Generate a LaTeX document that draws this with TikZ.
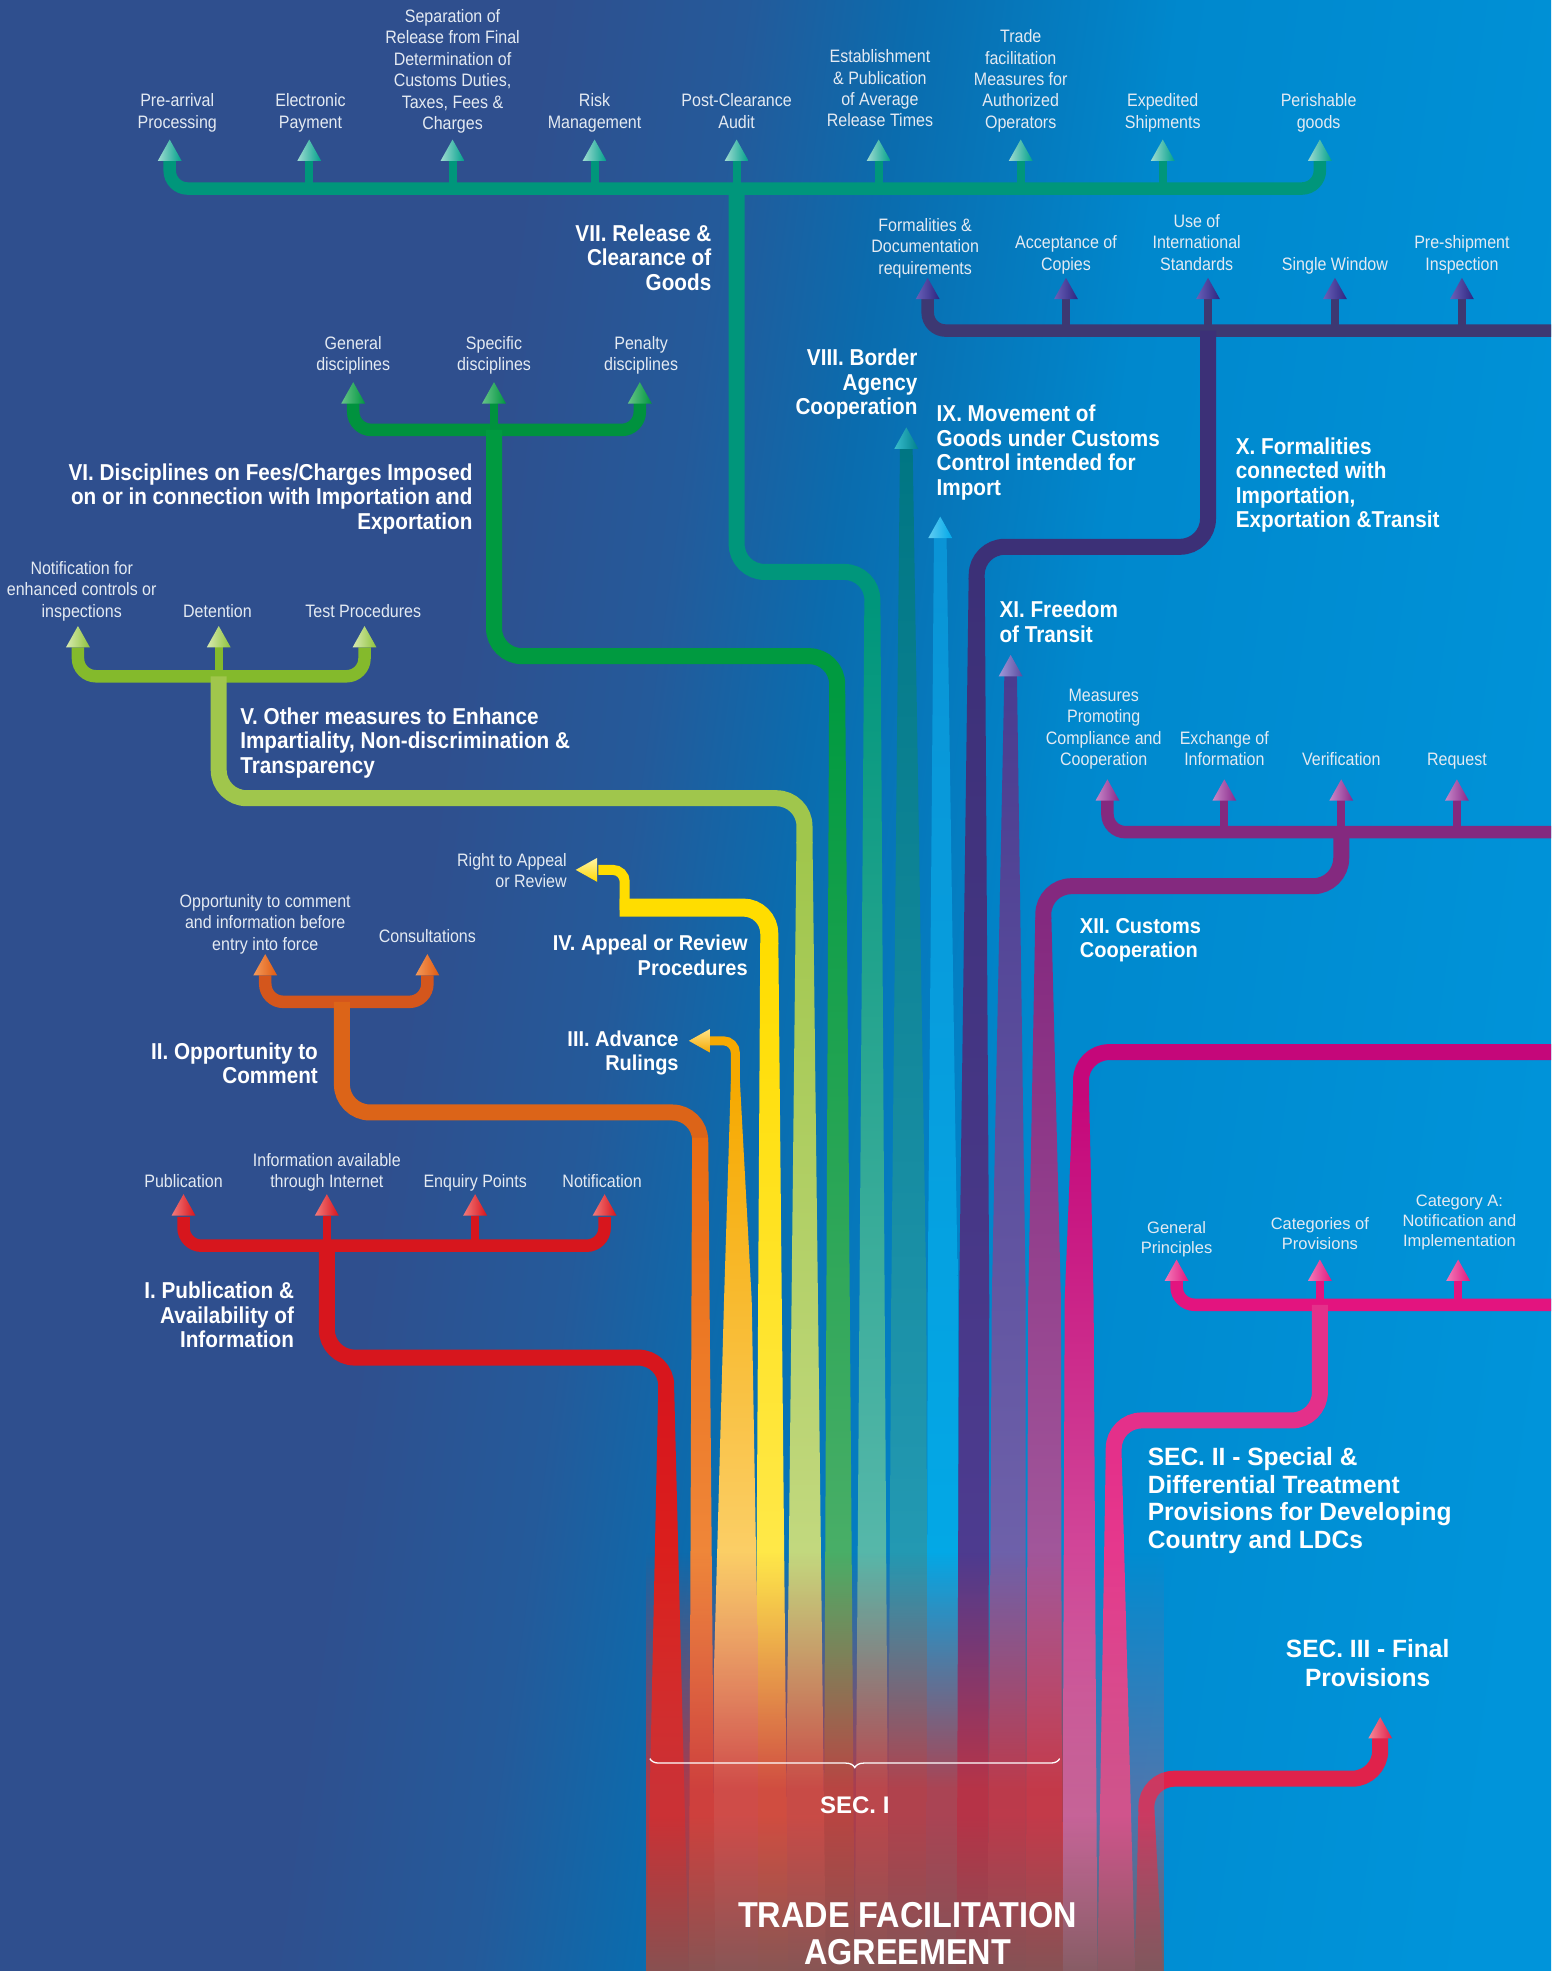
\documentclass[tikz,border=0pt]{standalone}
\usepackage{fontspec}
\setmainfont{Liberation Sans}
\newfontfamily\tfsub[FakeStretch=0.89]{Liberation Sans}
\newfontfamily\tfsec[FakeStretch=0.9]{Liberation Sans}
\newfontfamily\tfwide[FakeStretch=0.93]{Liberation Sans}
\newfontfamily\tfwideB[FakeStretch=0.98]{Liberation Sans}
\newfontfamily\tftitle[FakeStretch=0.9]{Liberation Sans}
\usetikzlibrary{fadings,decorations.pathreplacing}

\definecolor{bgA}{HTML}{2F4F8E}
\definecolor{bgB}{HTML}{245A9A}
\definecolor{bgC}{HTML}{0A6CAE}
\definecolor{bgD}{HTML}{0088CD}
\definecolor{bgE}{HTML}{0094DA}
\definecolor{subtxt}{HTML}{E4EAF2}

\definecolor{cI}{HTML}{D7161D}\definecolor{cIb}{HTML}{E4361E}
\definecolor{cIIbar}{HTML}{D4561C}\definecolor{cII}{HTML}{DC6418}
\definecolor{cIIv}{HTML}{EA6C12}\definecolor{cIIb}{HTML}{F4A060}
\definecolor{cIII}{HTML}{F6A900}\definecolor{cIIIm}{HTML}{FFE59A}\definecolor{cIIIb}{HTML}{FFEFC0}
\definecolor{cIV}{HTML}{FFDD00}\definecolor{cIVb}{HTML}{FFF07A}
\definecolor{cVbar}{HTML}{84BA2C}\definecolor{cV}{HTML}{A0C64C}\definecolor{cVb}{HTML}{D6E39C}
\definecolor{cVIbar}{HTML}{00923E}\definecolor{cVI}{HTML}{009A40}\definecolor{cVIb}{HTML}{6CB87A}
\definecolor{cVII}{HTML}{00967B}\definecolor{cVIIb}{HTML}{7CC6BE}
\definecolor{cVIII}{HTML}{007683}\definecolor{cVIIIb}{HTML}{30A6C4}
\definecolor{cIX}{HTML}{0A94D6}\definecolor{cIXb}{HTML}{00B0EC}
\definecolor{cXbar}{HTML}{3D3872}\definecolor{cX}{HTML}{3C3077}\definecolor{cXb}{HTML}{54409A}
\definecolor{cXI}{HTML}{4A3C90}\definecolor{cXIb}{HTML}{7E72B6}
\definecolor{cXII}{HTML}{84297F}\definecolor{cXIIb}{HTML}{B474AC}
\definecolor{cS2}{HTML}{C5077A}\definecolor{cS2b}{HTML}{DC80B4}
\definecolor{cS2s}{HTML}{E3147F}\definecolor{cS2m}{HTML}{E4308A}\definecolor{cS2mb}{HTML}{EA5E9A}
\definecolor{cS3}{HTML}{E0224B}\definecolor{cS3b}{HTML}{A45068}
\definecolor{ovRed}{HTML}{C8323A}\definecolor{ovPink}{HTML}{B05A80}\definecolor{ovBrown}{HTML}{785858}

\definecolor{aI}{HTML}{D8141C}\definecolor{aIL}{HTML}{F27A7A}
\definecolor{aII}{HTML}{E05A10}\definecolor{aIIL}{HTML}{F39A5A}
\definecolor{aIII}{HTML}{F5A800}\definecolor{aIIIL}{HTML}{FFE48A}
\definecolor{aIV}{HTML}{FFD800}\definecolor{aIVL}{HTML}{FFF4A8}
\definecolor{aV}{HTML}{8EC23C}\definecolor{aVL}{HTML}{D8EAB0}
\definecolor{aVI}{HTML}{00963F}\definecolor{aVIL}{HTML}{66C488}
\definecolor{aVII}{HTML}{00A08A}\definecolor{aVIIL}{HTML}{A0DCD2}
\definecolor{aVIII}{HTML}{00808C}\definecolor{aVIIIL}{HTML}{38BCCC}
\definecolor{aIX}{HTML}{00A8E8}\definecolor{aIXL}{HTML}{60CCF2}
\definecolor{aX}{HTML}{2D2580}\definecolor{aXL}{HTML}{6A60B8}
\definecolor{aXI}{HTML}{5A4CA0}\definecolor{aXIL}{HTML}{A098D8}
\definecolor{aXII}{HTML}{88288A}\definecolor{aXIIL}{HTML}{C888C8}
\definecolor{aS2}{HTML}{E0197F}\definecolor{aS2L}{HTML}{F47AB8}
\definecolor{aS3}{HTML}{E0214A}\definecolor{aS3L}{HTML}{F48898}

\pgfdeclarehorizontalshading{tfbg}{100bp}{color(0bp)=(bgA); color(39bp)=(bgA); color(45bp)=(bgB); color(50bp)=(bgC); color(58bp)=(bgD); color(75bp)=(bgE); color(100bp)=(bgE)}
\tikzfading[name=tffade, top color=transparent!100, bottom color=transparent!18]
\pgfdeclareverticalshading{tffadeshade}{100bp}{color(0bp)=(pgftransparent!15); color(47bp)=(pgftransparent!15); color(75bp)=(pgftransparent!100); color(100bp)=(pgftransparent!100)}
\pgfdeclarefading{tffadeC}{\pgfuseshading{tffadeshade}}

\newcommand\tfUp[3]{\shade[left color=#3L,right color=#3] (#1,#2)--++(9.5,17)--++(-19,0)--cycle;}
\newcommand\tfLeft[3]{\shade[top color=#3L,bottom color=#3] (#1,#2)--++(17,-9.5)--++(0,19)--cycle;}

\begin{document}
\begin{tikzpicture}[x=1.2569pt,y=-1.2569pt,
  sublab/.style={text=subtxt, align=center, anchor=base, inner sep=0pt, font=\tfsub\fontsize{18}{21.4}\selectfont},
  sublabw/.style={text=subtxt, align=center, anchor=base, inner sep=0pt, font=\fontsize{16.5}{20}\selectfont},
  secR/.style={text=white, align=right, anchor=base east, inner sep=0pt, font=\tfsec\bfseries\fontsize{23}{24.5}\selectfont},
  secL/.style={text=white, align=left, anchor=base west, inner sep=0pt, font=\tfsec\bfseries\fontsize{23}{24.5}\selectfont},
  wideR/.style={text=white, align=right, anchor=base east, inner sep=0pt, font=\tfwide\bfseries\fontsize{21.5}{24.5}\selectfont},
  wideL/.style={text=white, align=left, anchor=base west, inner sep=0pt, font=\tfwide\bfseries\fontsize{21.5}{24.5}\selectfont},
  secbig/.style={text=white, inner sep=0pt, font=\tfwideB\bfseries\fontsize{25}{27.8}\selectfont},
  barln/.style={line width=12.5pt, rounded corners=18pt},
  stemln/.style={line width=8pt},
  mainln/.style={line width=16pt, rounded corners=28pt},
  thinln/.style={line width=10pt, rounded corners=12pt},
]
\path[use as bounding box] (0,0) rectangle (1234,1568);
\clip (0,0) rectangle (1234,1568);
\shade[shading=tfbg, shading angle=-8] (-20,-20) rectangle (1254,1588);

% ---------- VII Release & Clearance of Goods
\draw[cVII, barln] (135,128)--(135,150)--(1050,150)--(1050,128);
\foreach \x in {246,360,473,586,699,812,925} {\draw[cVII, stemln] (\x,150)--(\x,127);}
\draw[cVII, mainln] (586,150)--(586,455)--(694,455)--(694,481);
\shade[top color=cVII, bottom color=cVIIb] (687.6,480)--(700.4,480)--(707,1568)--(680,1568)--cycle;
\foreach \x in {135,246,360,473,586,699,812,925,1050} {\tfUp{\x}{111}{aVII}}

% ---------- VI Disciplines
\draw[cVIbar, barln] (281,320)--(281,342)--(509,342)--(509,320);
\draw[cVIbar, stemln] (393,342)--(393,319);
\draw[cVI, mainln] (393,342)--(393,522)--(666,522)--(666,551);
\shade[top color=cVI, bottom color=cVIb] (659.6,550)--(672.4,550)--(680,1568)--(655,1568)--cycle;
\foreach \x in {281,393,509} {\tfUp{\x}{304}{aVI}}

% ---------- V Other measures
\draw[cVbar, barln] (62,515)--(62,538)--(290,538)--(290,515);
\draw[cVbar, stemln] (174,538)--(174,514);
\draw[cV, mainln] (174,538)--(174,635)--(640,635)--(640,671);
\shade[top color=cV, bottom color=cVb] (633.6,670)--(646.4,670)--(657,1568)--(624,1568)--cycle;
\foreach \x in {62,174,290} {\tfUp{\x}{498}{aV}}

% ---------- IV Appeal or Review
\draw[cIV, thinln] (476,692)--(497,692)--(497,724);
\draw[cIV, line width=18pt, rounded corners=26pt] (493,722)--(612,722)--(612,751);
\shade[top color=cIV, bottom color=cIVb] (604.8,750)--(619.2,750)--(627,1568)--(600,1568)--cycle;
\tfLeft{458}{692}{aIV}

% ---------- III Advance Rulings
\draw[cIII, line width=9pt, rounded corners=12pt] (565,828)--(585,828)--(585,861);
\shade[top color=cIII, middle color=cIIIm, bottom color=cIIIb] (581.4,860)--(588.6,860)--(598,1034)--(603,1327)--(603,1568)--(568,1568)--(568,1327)--(576,1034)--cycle;
\tfLeft{548}{828}{aIII}

% ---------- II Opportunity to Comment
\draw[cIIbar, barln] (211,776)--(211,797)--(340,797)--(340,776);
\draw[cII, mainln] (272,797)--(272,885)--(557,885)--(557,906);
\shade[top color=cIIv, bottom color=cIIb] (550.6,905)--(563.4,905)--(569,1568)--(548,1568)--cycle;
\foreach \x in {211,340} {\tfUp{\x}{759}{aII}}

% ---------- I Publication
\draw[cI, barln] (146,968)--(146,991)--(481,991)--(481,968);
\foreach \x in {260,378} {\draw[cI, stemln] (\x,991)--(\x,967);}
\draw[cI, mainln] (260,991)--(260,1080)--(530,1080)--(530,1109);
\shade[top color=cI, bottom color=cIb] (523.6,1108)--(536.4,1108)--(548,1568)--(514,1568)--cycle;
\foreach \x in {146,260,378,481} {\tfUp{\x}{950}{aI}}

% ---------- VIII Border Agency Cooperation
\shade[top color=cVIII, bottom color=cVIIIb] (716,355)--(726,355)--(737,1034)--(738,1568)--(706,1568)--(709,1034)--cycle;
\tfUp{721}{340}{aVIII}

% ---------- IX Movement of Goods
\shade[top color=cIX, bottom color=cIXb] (743,426)--(753,426)--(762,1034)--(762,1568)--(737,1568)--(738,1034)--cycle;
\tfUp{748}{411}{aIX}

% ---------- X Formalities
\draw[cXbar, barln] (738,238)--(738,263)--(1250,263);
\foreach \x in {848,961,1062,1163} {\draw[cXbar, stemln] (\x,263)--(\x,237);}
\draw[cX, mainln] (961,263)--(961,435)--(777,435)--(777,461);
\shade[top color=cX, bottom color=cXb] (770.6,460)--(783.4,460)--(787,1034)--(786,1568)--(761,1568)--(763,1034)--cycle;
\foreach \x in {738,848,961,1062,1163} {\tfUp{\x}{221}{aX}}

% ---------- XI Freedom of Transit
\shade[top color=cXI, bottom color=cXIb] (799,537)--(809,537)--(816,1034)--(816,1568)--(786,1568)--(789,1034)--cycle;
\tfUp{804}{521}{aXI}

% ---------- XII Customs Cooperation
\draw[cXII, barln] (881,636)--(881,662)--(1250,662);
\foreach \x in {974,1067,1159} {\draw[cXII, stemln] (\x,662)--(\x,635);}
\draw[cXII, mainln] (1067,662)--(1067,705)--(830,705)--(830,731);
\shade[top color=cXII, bottom color=cXIIb] (823.6,730)--(836.4,730)--(844,1034)--(845,1568)--(816,1568)--(818,1034)--cycle;
\foreach \x in {881,974,1067,1159} {\tfUp{\x}{620}{aXII}}

% ---------- SEC II
\draw[cS2, mainln] (1250,837)--(860,837)--(860,871);
\shade[top color=cS2, bottom color=cS2b] (853.6,870)--(866.4,870)--(870,1034)--(873,1568)--(845,1568)--(847,1034)--cycle;
\draw[cS2s, barln] (936,1018)--(936,1038)--(1250,1038);
\foreach \x in {1050,1160} {\draw[cS2s, stemln] (\x,1038)--(\x,1017);}
\draw[cS2m, mainln] (1050,1038)--(1050,1130)--(886,1130)--(886,1161);
\shade[top color=cS2m, bottom color=cS2mb] (879.6,1160)--(892.4,1160)--(903,1568)--(873,1568)--cycle;
\foreach \x in {936,1050,1160} {\tfUp{\x}{1002}{aS2}}

% ---------- SEC III
\draw[cS3, mainln] (1098,1382)--(1098,1415)--(912,1415)--(912,1441);
\shade[top color=cS3, bottom color=cS3b] (905.6,1440)--(918.4,1440)--(925,1568)--(903,1568)--cycle;
\tfUp{1098}{1366}{aS3}

% ---------- trunk overlays
\fill[ovRed, path fading=tffadeC] (514,1235) rectangle (846,1569);
\fill[ovPink, path fading=tffadeC, fill opacity=0.5] (846,1235) rectangle (926,1569);
\fill[ovBrown, path fading=tffade] (514,1445) rectangle (926,1569);

% ---------- brace SEC I
\coordinate (braceR) at (843,1399);
\coordinate (braceL) at (517,1399);
\draw[white, line width=1.3pt, decorate, decoration={brace, amplitude=9pt}] (braceR) -- (braceL);

% ---------- labels VII
\node[sublab] (l71) at (141,102) {Pre-arrival\\Processing};
\node[sublab] (l72) at (247,102) {Electronic\\Payment};
\node[sublab] (l73) at (360,103) {Separation of\\Release from Final\\Determination of\\Customs Duties,\\Taxes, Fees \&\\Charges};
\node[sublab] (l74) at (473,102) {Risk\\Management};
\node[sublab] (l75) at (586,102) {Post-Clearance\\Audit};
\node[sublab] (l76) at (700,101) {Establishment\\\& Publication\\of Average\\Release Times};
\node[sublab] (l77) at (812,102) {Trade\\facilitation\\Measures for\\Authorized\\Operators};
\node[sublab] (l78) at (925,102) {Expedited\\Shipments};
\node[sublab] (l79) at (1049,102) {Perishable\\goods};
\node[secR] (s7) at (566,231) {VII. Release \&\\Clearance of\\Goods};

% ---------- labels X
\node[sublab] (l101) at (736,218) {Formalities \&\\Documentation\\requirements};
\node[sublab] (l102) at (848,215) {Acceptance of\\Copies};
\node[sublab] (l103) at (952,215) {Use of\\International\\Standards};
\node[sublab] (l104) at (1062,215) {Single Window};
\node[sublab] (l105) at (1163,215) {Pre-shipment\\Inspection};
\node[secL] (s10) at (983,420) {X. Formalities\\connected with\\Importation,\\Exportation \&Transit};

% ---------- labels VI
\node[sublab] (l61) at (281,295) {General\\disciplines};
\node[sublab] (l62) at (393,295) {Specific\\disciplines};
\node[sublab] (l63) at (510,295) {Penalty\\disciplines};
\node[secR] (s6) at (376,421) {VI. Disciplines on Fees/Charges Imposed\\on or in connection with Importation and\\Exportation};

% ---------- VIII, IX, XI
\node[secR] (s8) at (730,330) {VIII. Border\\Agency\\Cooperation};
\node[secL] (s9) at (745,394) {IX. Movement of\\Goods under Customs\\Control intended for\\Import};
\node[secL] (s11) at (795,511) {XI. Freedom\\of Transit};

% ---------- labels V
\node[sublab] (l51) at (65,491) {Notification for\\enhanced controls or\\inspections};
\node[sublab] (l52) at (173,491) {Detention};
\node[sublab] (l53) at (289,491) {Test Procedures};
\node[secL] (s5) at (191,615) {V. Other measures to Enhance\\Impartiality, Non-discrimination \&\\Transparency};

% ---------- labels XII
\node[sublab] (l121) at (878,609) {Measures\\Promoting\\Compliance and\\Cooperation};
\node[sublab] (l122) at (974,609) {Exchange of\\Information};
\node[sublab] (l123) at (1067,609) {Verification};
\node[sublab] (l124) at (1159,609) {Request};
\node[wideL] (s12) at (859,762) {XII. Customs\\Cooperation};

% ---------- IV, III
\node[sublab, align=right, anchor=base east] (l41) at (451,706) {Right to Appeal\\or Review};
\node[wideR] (s4) at (595,776) {IV. Appeal or Review\\Procedures};
\node[wideR] (s3) at (540,852) {III. Advance\\Rulings};

% ---------- II
\node[sublab] (l21) at (211,756) {Opportunity to comment\\and information before\\entry into force};
\node[sublab] (l22) at (340,750) {Consultations};
\node[secR] (s2) at (253,862) {II. Opportunity to\\Comment};

% ---------- I
\node[sublab] (l11) at (146,945) {Publication};
\node[sublab] (l12) at (260,945) {Information available\\through Internet};
\node[sublab] (l13) at (378,945) {Enquiry Points};
\node[sublab] (l14) at (479,945) {Notification};
\node[secR] (s1) at (234,1072) {I. Publication \&\\Availability of\\Information};

% ---------- SEC II
\node[sublabw] (l201) at (936,997) {General\\Principles};
\node[sublabw] (l202) at (1050,994) {Categories of\\Provisions};
\node[sublabw] (l203) at (1161,992) {Category A:\\Notification and\\Implementation};
\node[secbig, align=left, anchor=base west] (sec2) at (913,1232) {SEC. II - Special \&\\Differential Treatment\\Provisions for Developing\\Country and LDCs};

% ---------- SEC III
\node[secbig, align=center, anchor=base, font=\tfwideB\bfseries\fontsize{25}{29}\selectfont] (sec3) at (1088,1342) {SEC. III - Final\\Provisions};

% ---------- SEC I and title
\node[text=white, inner sep=0pt, anchor=base, font=\bfseries\fontsize{24}{28}\selectfont] (sec1) at (680,1443) {SEC. I};
\node[text=white, inner sep=0pt, anchor=base, align=center, font=\tftitle\bfseries\fontsize{36}{37.7}\selectfont] (title) at (722,1563) {TRADE FACILITATION\\AGREEMENT};
\end{tikzpicture}
\end{document}
